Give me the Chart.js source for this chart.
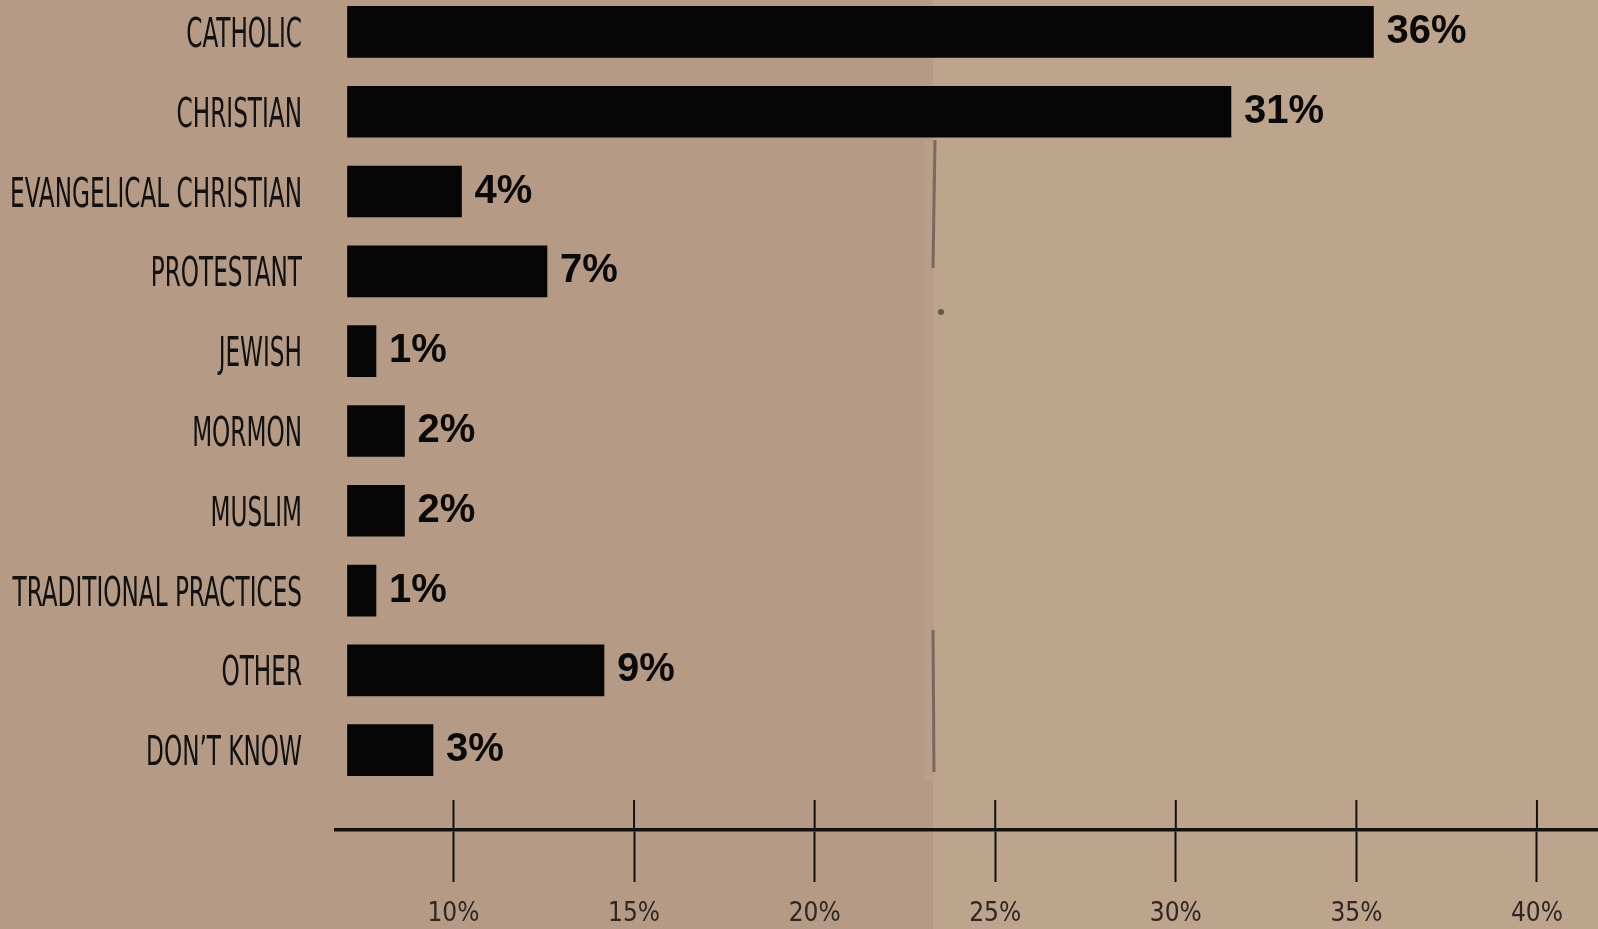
<!DOCTYPE html>
<html>
<head>
<meta charset="utf-8">
<script src="https://cdn.jsdelivr.net/npm/chart.js@4/dist/chart.umd.min.js"></script>
<style>
  html, body { margin: 0; padding: 0; background: #b59b85; }
  #wrap { width: 1598px; height: 929px; position: relative; }
</style>
</head>
<body>
<div id="wrap"><canvas id="bar-chart" width="1598" height="929"></canvas></div>
<script>
const categories = ["CATHOLIC", "CHRISTIAN", "EVANGELICAL CHRISTIAN", "PROTESTANT", "JEWISH",
  "MORMON", "MUSLIM", "TRADITIONAL PRACTICES", "OTHER", "DON\u2019T KNOW"];
const values = [36, 31, 4, 7, 1, 2, 2, 1, 9, 3];
const axisTicks = [10, 15, 20, 25, 30, 35, 40];

const labelFont = "'Liberation Sans Narrow', 'DejaVu Sans Condensed', sans-serif";

// paper background with the fold in the middle
const paper = {
  id: "paper",
  beforeDraw(chart) {
    const ctx = chart.ctx;
    ctx.save();
    ctx.fillStyle = "#b59b85";
    ctx.fillRect(0, 0, 933, chart.height);
    ctx.fillStyle = "#bda48d";
    ctx.fillRect(933, 0, chart.width - 933, chart.height);
    ctx.fillStyle = "rgba(205,180,155,0.18)";
    ctx.fillRect(924, 140, 8, 640);
    ctx.strokeStyle = "rgba(95,80,75,0.7)";
    ctx.lineWidth = 3;
    ctx.beginPath();
    ctx.moveTo(935, 140); ctx.lineTo(933, 268);
    ctx.moveTo(933, 630); ctx.lineTo(934, 772);
    ctx.stroke();
    ctx.fillStyle = "rgba(80,70,65,0.8)";
    ctx.beginPath();
    ctx.arc(941, 312, 3, 0, Math.PI * 2);
    ctx.fill();
    ctx.restore();
  }
};

// category names, squeezed like the condensed lettering
const catLabels = {
  id: "catLabels",
  afterDraw(chart) {
    const ctx = chart.ctx;
    const y = chart.scales.y;
    ctx.save();
    ctx.font = "41px " + labelFont;
    ctx.fillStyle = "#111";
    ctx.textAlign = "right";
    ctx.textBaseline = "alphabetic";
    const sx = 292 / ctx.measureText("EVANGELICAL CHRISTIAN").width;
    categories.forEach((c, i) => {
      const py = y.getPixelForValue(i);
      ctx.save();
      ctx.translate(302, py + 15);
      ctx.scale(sx, 1);
      ctx.fillText(c, 0, 0);
      ctx.restore();
    });
    ctx.restore();
  }
};

// value labels at the end of each bar, plus the upper half of the axis ticks
const valueLabels = {
  id: "valueLabels",
  afterDatasetsDraw(chart) {
    const ctx = chart.ctx;
    const meta = chart.getDatasetMeta(0);
    ctx.save();
    ctx.font = "bold 40px 'Liberation Sans', sans-serif";
    ctx.fillStyle = "#0a0a0a";
    ctx.textAlign = "left";
    ctx.textBaseline = "middle";
    meta.data.forEach((bar, i) => {
      ctx.fillText(values[i] + "%", bar.x + 13, bar.y);
    });
    ctx.restore();
  },
  afterDraw(chart) {
    const ctx = chart.ctx;
    const ax = chart.scales.x2;
    ctx.save();
    ctx.strokeStyle = "#111";
    ctx.lineWidth = 2;
    axisTicks.forEach(v => {
      const px = ax.getPixelForValue(v);
      ctx.beginPath();
      ctx.moveTo(px, ax.top - 30);
      ctx.lineTo(px, ax.top);
      ctx.stroke();
    });
    ctx.restore();
  }
};

new Chart(document.getElementById("bar-chart"), {
  type: "bar",
  data: {
    labels: categories,
    datasets: [{
      data: values.map((v, i) => ({ x: v, y: i })),
      backgroundColor: "#050505",
      borderWidth: 0,
      barThickness: 51,
      clip: false
    }]
  },
  options: {
    indexAxis: "y",
    responsive: false,
    animation: false,
    layout: { padding: { left: 336, right: 0, top: 0, bottom: 0 } },
    plugins: {
      legend: { display: false },
      tooltip: { enabled: false }
    },
    scales: {
      y: { type: "linear", min: -0.4, max: 10, reverse: true, offset: false, display: false },
      x: { type: "linear", min: -0.4035, max: 43.88, display: false },
      x2: {
        type: "linear",
        axis: "x",
        position: "bottom",
        min: 6.747,
        max: 41.69,
        afterBuildTicks: (scale) => { scale.ticks = axisTicks.map(v => ({ value: v })); },
        afterFit: (scale) => { scale.height = 99; },
        border: { display: true, color: "#111", width: 3.5 },
        grid: { drawOnChartArea: false, drawTicks: true, tickLength: 52, tickWidth: 2, tickColor: "#111" },
        ticks: {
          padding: 17,
          color: "#2f2722",
          font: { family: labelFont, size: 26 },
          callback: (v) => v + "%"
        }
      }
    }
  },
  plugins: [paper, catLabels, valueLabels]
});
</script>
</body>
</html>
